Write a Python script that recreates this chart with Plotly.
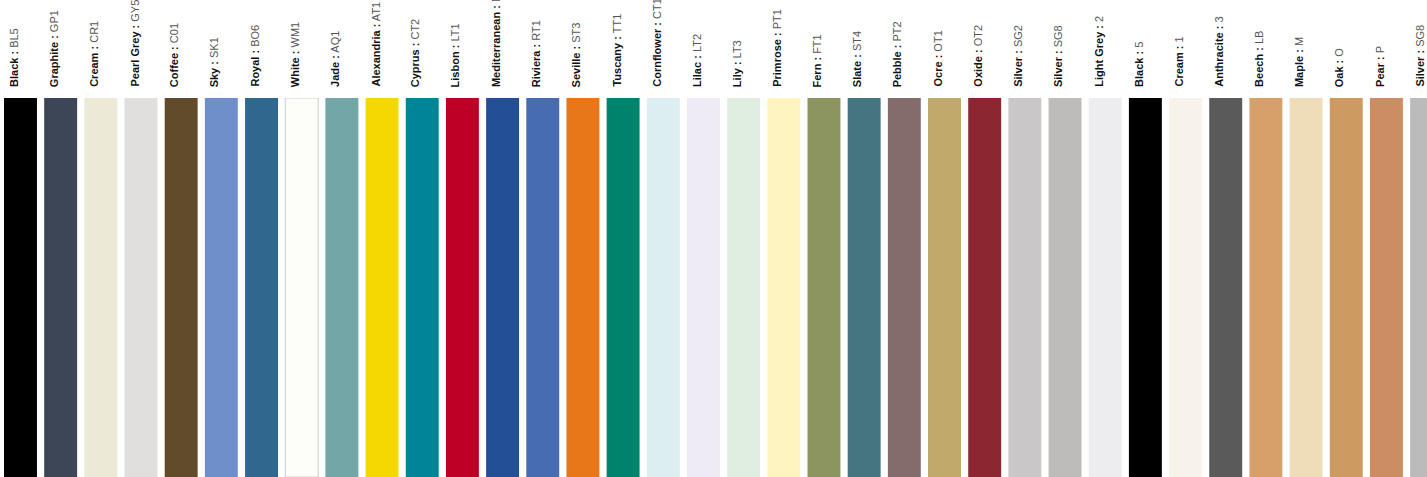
import plotly.graph_objects as go

names = ["Black", "Graphite", "Cream", "Pearl Grey", "Coffee", "Sky", "Royal", "White", "Jade",
         "Alexandria", "Cyprus", "Lisbon", "Mediterranean", "Riviera", "Seville", "Tuscany",
         "Cornflower", "Lilac", "Lily", "Primrose", "Fern", "Slate", "Pebble", "Ocre", "Oxide",
         "Silver", "Silver", "Light Grey", "Black", "Cream", "Anthracite", "Beech", "Maple",
         "Oak", "Pear", "Silver"]
codes = ["BL5", "GP1", "CR1", "GY5", "C01", "SK1", "BO6", "WM1", "AQ1",
         "AT1", "CT2", "LT1", "MT1", "RT1", "ST3", "TT1",
         "CT1", "LT2", "LT3", "PT1", "FT1", "ST4", "PT2", "OT1", "OT2",
         "SG2", "SG8", "2", "5", "1", "3", "LB", "M",
         "O", "P", "SG8"]
colors = ["#000000", "#3d4656", "#ece9d6", "#e0dfdd", "#624b2a", "#6e8fca", "#30678e", "#fdfdfa", "#73a7a7",
          "#f5d800", "#008597", "#bd0023", "#234f97", "#476cb2", "#e8771a", "#00836c",
          "#dceef1", "#efebf4", "#e0ede1", "#fef4bf", "#8c955f", "#447581", "#846b6c", "#c1a86b", "#8c2630",
          "#c9c7c8", "#bdbcbb", "#edecee", "#000000", "#f7f2ea", "#5a5a5a", "#d6a06a", "#efdcb8",
          "#cd9a62", "#cc8d63", "#bbbbbb"]
heights = [1] * len(names)

idx = list(range(len(names)))
line_colors = ["#cccccc" if n == "White" else c for n, c in zip(names, colors)]
line_widths = [1 if n == "White" else 0 for n in names]

fig = go.Figure(go.Bar(
    x=idx, y=heights,
    marker=dict(color=colors, line=dict(color=line_colors, width=line_widths)),
    hoverinfo="skip",
))

for i, (n, c) in enumerate(zip(names, codes)):
    fig.add_annotation(
        x=i, y=1, xref="x", yref="paper",
        text=f"<b>{n} :</b> <span style='color:#555555'>{c}</span>",
        textangle=-90, showarrow=False,
        xanchor="center", yanchor="bottom",
        xshift=-7, yshift=9,
        font=dict(family="Liberation Sans, Arial, sans-serif", size=11, color="#111111"),
    )

fig.update_layout(
    width=1427, height=477,
    margin=dict(l=0, r=0, t=98, b=0),
    paper_bgcolor="white", plot_bgcolor="white",
    bargap=0.18, showlegend=False,
    xaxis=dict(range=[-0.51, 35.01], visible=False, showgrid=False, fixedrange=True),
    yaxis=dict(range=[0, 1], visible=False, showgrid=False, fixedrange=True),
)

fig.write_html("out.html", config={"displayModeBar": False},
               post_script="document.body.style.margin='0';document.body.style.overflow='hidden';")
